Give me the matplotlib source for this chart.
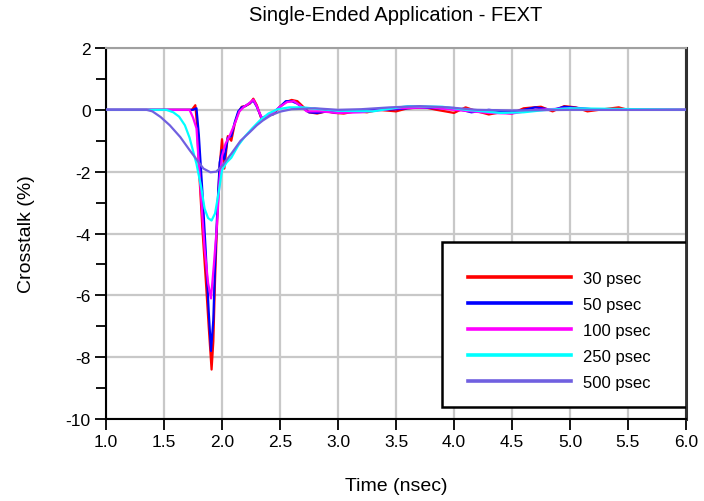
import matplotlib
matplotlib.use("Agg")
import matplotlib.pyplot as plt
from matplotlib.patches import Rectangle
from matplotlib.ticker import MultipleLocator

plt.rcParams['font.family'] = ['Liberation Sans', 'DejaVu Sans']

# ---------------- data ----------------
title = "Single-Ended Application - FEXT"
xlabel = "Time (nsec)"
ylabel = "Crosstalk (%)"
series_labels = ["30 psec", "50 psec", "100 psec", "250 psec", "500 psec"]
series_colors = ["#FF0000", "#0000FF", "#FF00FF", "#00FFFF", "#7060E0"]

t_30 = [1.0, 1.74, 1.77, 1.785, 1.80, 1.83, 1.86, 1.885, 1.91, 1.925, 1.94, 1.96,
        1.98, 2.0, 2.02, 2.05, 2.08, 2.11, 2.14, 2.17, 2.20, 2.24, 2.27, 2.30,
        2.34, 2.39, 2.44, 2.50, 2.55, 2.60, 2.65, 2.70, 2.75, 2.82, 2.90, 2.97,
        3.05, 3.15, 3.25, 3.35, 3.5, 3.6, 3.75, 3.85, 4.0, 4.1, 4.2, 4.3, 4.4,
        4.5, 4.6, 4.75, 4.85, 4.95, 5.05, 5.15, 5.25, 5.42, 5.5, 6.0]
v_30 = [0, 0, 0.15, -0.5, -1.8, -3.8, -5.5, -7.0, -8.4, -7.5, -5.5, -3.4,
        -1.8, -0.95, -1.9, -0.85, -1.0, -0.45, -0.1, 0.1, 0.12, 0.2, 0.36, 0.15,
        -0.3, -0.2, -0.15, 0.1, 0.25, 0.32, 0.28, 0.1, -0.08, -0.12, -0.05, -0.1,
        -0.12, -0.05, -0.08, 0.0, -0.05, 0.05, 0.08, 0.0, -0.1, 0.08, -0.05, -0.15, -0.08,
        -0.12, 0.05, 0.1, -0.05, 0.12, 0.08, -0.05, 0.0, 0.08, 0.0, 0.0]

t_50 = [1.0, 1.75, 1.78, 1.80, 1.83, 1.86, 1.885, 1.905, 1.925, 1.94, 1.96, 1.98,
        2.0, 2.02, 2.05, 2.08, 2.11, 2.14, 2.17, 2.20, 2.24, 2.27, 2.30, 2.34,
        2.39, 2.44, 2.50, 2.55, 2.60, 2.65, 2.70, 2.75, 2.82, 2.90, 3.0, 3.1,
        3.25, 3.5, 3.7, 3.85, 4.0, 4.15, 4.3, 4.5, 4.7, 4.85, 4.95, 5.1, 5.25, 5.5, 6.0]
v_50 = [0, 0, 0.05, -0.8, -2.6, -4.6, -6.5, -7.8, -6.8, -5.0, -3.2, -1.7,
        -1.3, -1.6, -0.9, -0.85, -0.4, -0.05, 0.08, 0.12, 0.22, 0.3, 0.1, -0.25,
        -0.22, -0.1, 0.1, 0.28, 0.28, 0.2, 0.05, -0.08, -0.1, -0.05, -0.1, -0.05,
        -0.02, 0.02, 0.08, 0.05, 0.06, -0.08, 0.0, -0.08, 0.08, 0.0, 0.1, 0.05, 0.0, 0.0, 0.0]

t_100 = [1.0, 1.72, 1.75, 1.78, 1.81, 1.85, 1.88, 1.905, 1.93, 1.957, 1.98, 2.0,
         2.03, 2.07, 2.11, 2.15, 2.19, 2.23, 2.27, 2.30, 2.34, 2.39, 2.44, 2.50,
         2.56, 2.62, 2.67, 2.73, 2.85, 3.0, 3.2, 3.5, 3.8, 4.0, 4.3, 4.5, 4.7, 5.0, 5.3, 6.0]
v_100 = [0, 0, -0.25, -0.6, -2.3, -4.5, -5.6, -6.1, -5.0, -3.7, -2.2, -1.5,
         -1.1, -0.8, -0.45, -0.05, 0.1, 0.2, 0.33, 0.12, -0.25, -0.2, -0.1, 0.1,
         0.25, 0.28, 0.15, -0.05, -0.05, -0.1, -0.08, 0.05, 0.08, 0.0, -0.1, -0.12, 0.0, 0.05, 0.0, 0.0]

t_250 = [1.0, 1.52, 1.58, 1.63, 1.68, 1.72, 1.78, 1.82, 1.85, 1.88, 1.91, 1.94,
         1.97, 2.00, 2.04, 2.08, 2.14, 2.20, 2.26, 2.33, 2.40, 2.48, 2.58, 2.70,
         2.85, 3.0, 3.3, 3.6, 3.9, 4.1, 4.4, 4.6, 4.8, 5.0, 6.0]
v_250 = [0, 0, -0.08, -0.22, -0.5, -0.9, -1.75, -2.5, -3.2, -3.5, -3.58, -3.35,
         -2.7, -1.95, -1.7, -1.55, -1.15, -0.85, -0.6, -0.33, -0.12, 0.02, 0.08, 0.08,
         0.02, -0.03, -0.05, 0.12, 0.1, 0.0, -0.1, -0.08, 0.0, 0.05, 0.0]

t_500 = [1.0, 1.35, 1.40, 1.47, 1.55, 1.64, 1.72, 1.78, 1.84, 1.90, 1.95, 2.00,
         2.08, 2.16, 2.24, 2.30, 2.35, 2.42, 2.50, 2.60, 2.80, 3.0, 3.2, 3.45,
         3.7, 3.95, 4.2, 4.5, 5.0, 6.0]
v_500 = [0, 0, -0.05, -0.23, -0.5, -0.88, -1.3, -1.6, -1.9, -2.02, -2.0, -1.82,
         -1.42, -1.0, -0.72, -0.5, -0.35, -0.18, -0.06, 0.02, 0.05, 0.0, 0.02, 0.08,
         0.12, 0.08, 0.0, -0.02, 0.0, 0.0]

x_ticks = [1.0, 1.5, 2.0, 2.5, 3.0, 3.5, 4.0, 4.5, 5.0, 5.5, 6.0]
y_ticks = [-10, -8, -6, -4, -2, 0, 2]

series_t = [t_30, t_50, t_100, t_250, t_500]
series_v = [v_30, v_50, v_100, v_250, v_500]

# ---------------- figure ----------------
fig = plt.figure(figsize=(7.04, 5.02), dpi=100)
ax = fig.add_axes([0.1506, 0.1633, 0.8238, 0.7391])

for t, v, c, lab in zip(series_t, series_v, series_colors, series_labels):
    ax.plot(t, v, color=c, lw=1.6, label=lab, zorder=3)

ax.set_xlim(1.0, 6.0)
ax.set_ylim(-10, 2)
ax.set_xticks(x_ticks)
ax.set_xticklabels([f"{x:.1f}" for x in x_ticks])
ax.set_yticks(y_ticks)
ax.set_yticklabels([str(y) for y in y_ticks])
ax.yaxis.set_minor_locator(MultipleLocator(1))

ax.grid(True, which='major', color='#C8C8C8', lw=1.6, zorder=0)
ax.set_axisbelow(True)

ax.tick_params(axis='both', which='major', direction='out', length=8, width=1.3,
               labelsize=12.5, pad=3, color='black')
ax.tick_params(axis='y', which='minor', direction='out', length=7, width=1.3)

for side in ['left', 'bottom']:
    ax.spines[side].set_linewidth(1.5)
    ax.spines[side].set_color('black')
ax.spines['right'].set_linewidth(2.2)
ax.spines['right'].set_color('#303030')
ax.spines['top'].set_linewidth(1.5)
ax.spines['top'].set_color('#A0A0A0')

ax.set_title(title, fontsize=14.5, pad=20)
ax.set_xlabel(xlabel, fontsize=14, labelpad=20)
ax.set_ylabel(ylabel, fontsize=14, labelpad=22)

# legend frame and entries
ax.add_patch(Rectangle((0.579, 0.032), 0.421, 0.445, transform=ax.transAxes,
                       facecolor='white', edgecolor='black', lw=1.8, zorder=5))
handles, labels = ax.get_legend_handles_labels()
leg = ax.legend(handles, labels, loc='upper left', bbox_to_anchor=(0.598, 0.44),
                frameon=False, fontsize=12, handlelength=6.2, handletextpad=0.72,
                labelspacing=0.66)
leg.set_zorder(6)
for line in leg.get_lines():
    line.set_linewidth(2.6)

fig.savefig("out.png", dpi=100, facecolor='white')
